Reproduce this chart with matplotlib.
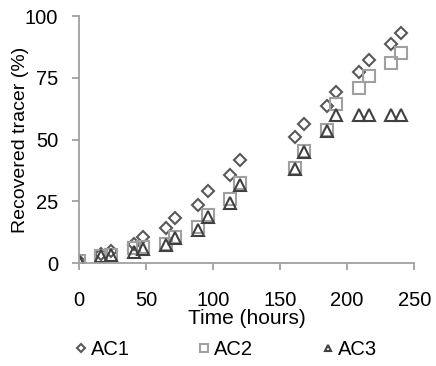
import matplotlib
matplotlib.use('Agg')
import matplotlib.pyplot as plt

# sampling times (hours)
hours = [0, 16.5, 24, 41, 48, 65, 72, 89, 96, 113, 120,
         161, 168, 185, 192, 209, 216, 233, 240]

# recovered tracer (%)
ac1 = [1.0, 3.8, 4.8, 7.6, 10.6, 14.2, 18.2, 23.6, 29.1, 35.6, 41.7,
       50.9, 56.3, 63.7, 69.4, 77.5, 82.2, 88.7, 93.2]
ac2 = [1.0, 3.0, 3.5, 6.0, 6.4, 7.7, 10.4, 14.7, 19.3, 25.8, 32.3,
       38.7, 45.5, 53.8, 64.4, 71.1, 75.7, 81.1, 85.1]
ac3 = [1.0, 2.8, 3.2, 4.4, 5.6, 7.3, 10.0, 13.4, 18.6, 24.5, 31.6,
       38.0, 44.8, 53.5, 59.9, 59.9, 59.9, 59.9, 59.9]

xticks = [0, 50, 100, 150, 200, 250]
yticks = [0, 25, 50, 75, 100]

plt.rcParams['font.family'] = ['Liberation Sans', 'DejaVu Sans']

fig = plt.figure(figsize=(4.36, 3.66), dpi=100)
ax = fig.add_axes([0.181, 0.281, 0.769, 0.675])

ax.plot(hours, ac1, linestyle='none', marker='D', markersize=6.5,
        markerfacecolor='none', markeredgecolor='#595959', markeredgewidth=1.5, label='AC1')
ax.plot(hours, ac2, linestyle='none', marker='s', markersize=8.5,
        markerfacecolor='none', markeredgecolor='#a0a0a0', markeredgewidth=1.5, label='AC2')
ax.plot(hours, ac3, linestyle='none', marker='^', markersize=8,
        markerfacecolor='none', markeredgecolor='#404040', markeredgewidth=1.5, label='AC3')

ax.set_xlim(0, 250)
ax.set_ylim(0, 100)
ax.set_xticks(xticks)
ax.set_yticks(yticks)
for s in ['top', 'right']:
    ax.spines[s].set_visible(False)
for s in ['left', 'bottom']:
    ax.spines[s].set_color('#a0a0a0')
    ax.spines[s].set_linewidth(1.3)
ax.tick_params(axis='both', colors='#a0a0a0', length=5, width=1.3,
               labelsize=14.5, labelcolor='black')
ax.tick_params(axis='x', pad=15)
ax.tick_params(axis='y', pad=10)

ax.set_xlabel('Time (hours)', fontsize=15, labelpad=-1)
ax.set_ylabel('Recovered tracer (%)', fontsize=14, labelpad=-3)

fig.legend(loc='center', bbox_to_anchor=(0.518, 0.046), ncol=3, frameon=False,
           fontsize=14.5, markerscale=0.6, handletextpad=0.2, columnspacing=3.4,
           handlelength=0.6)

fig.savefig('out.png', dpi=100)
